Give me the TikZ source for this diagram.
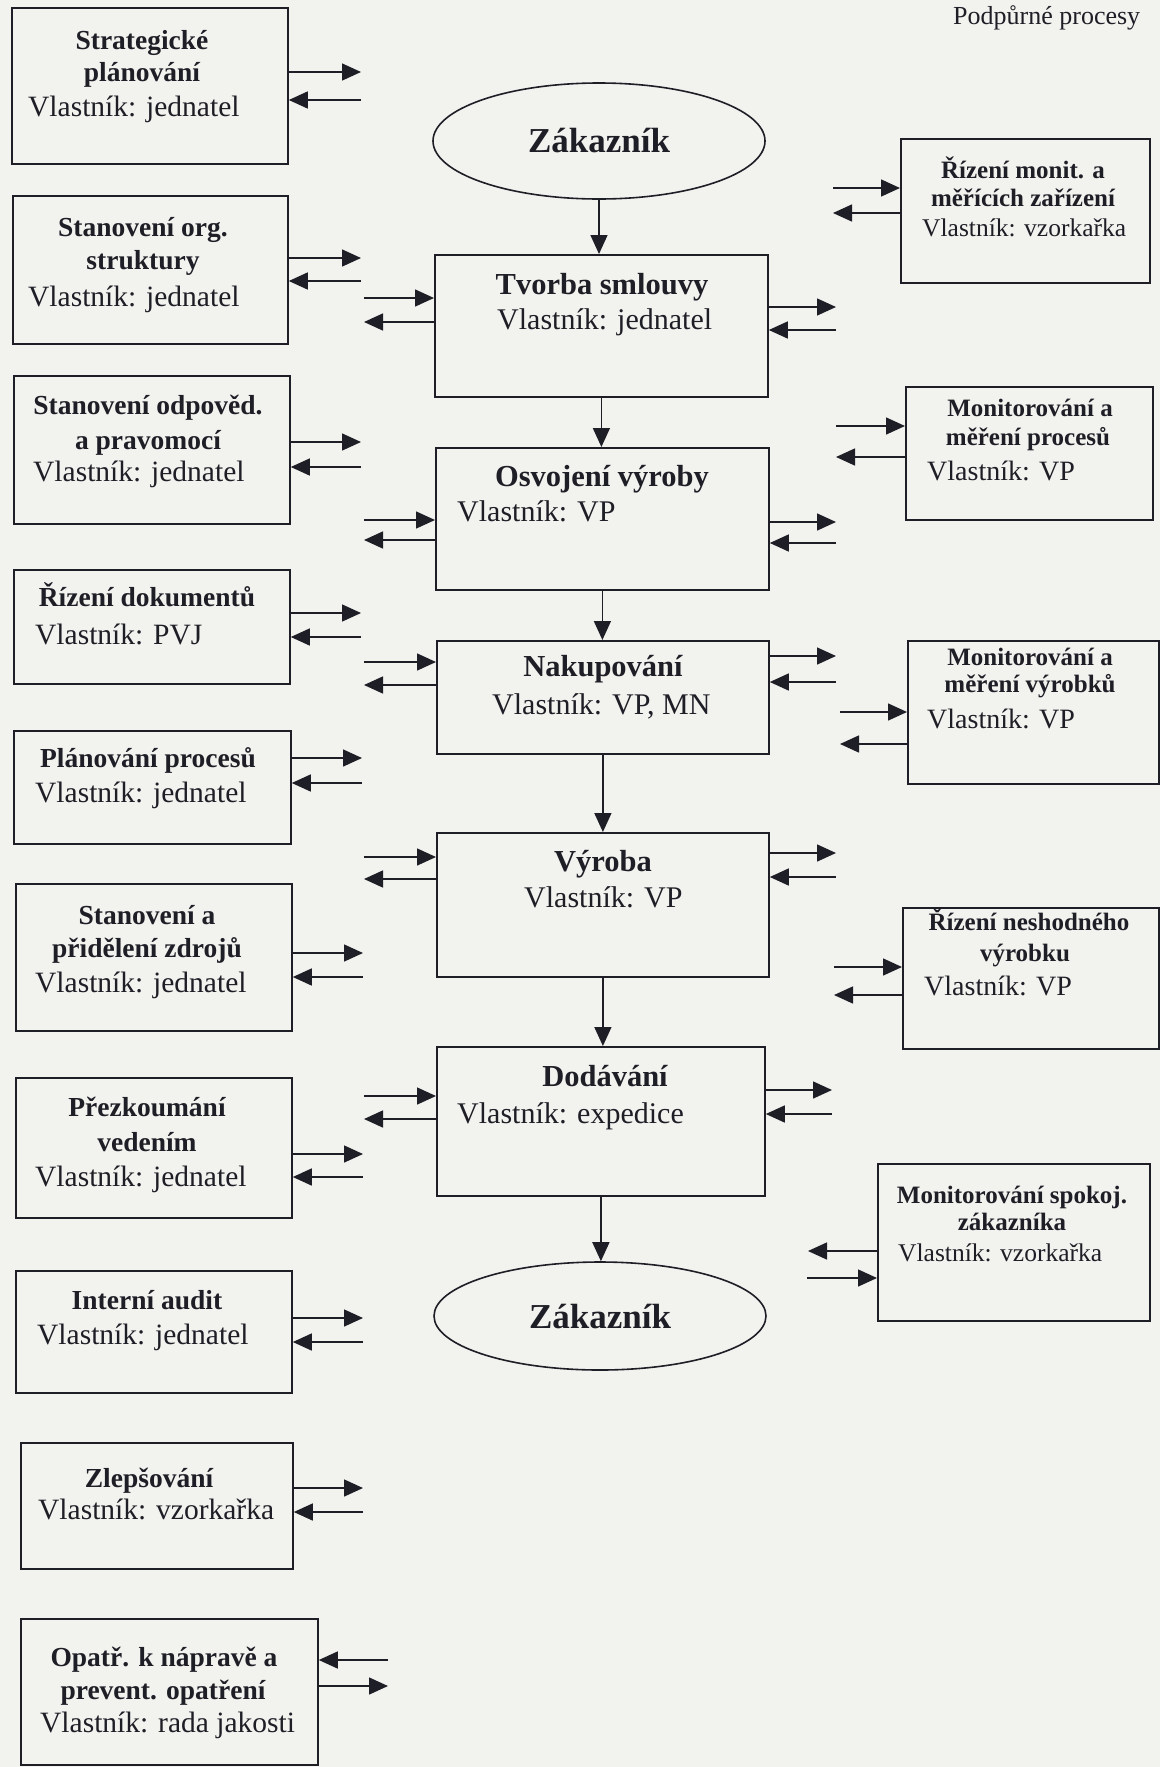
\documentclass[tikz,border=0pt]{standalone}
\usepackage{fontspec}
\setmainfont{Liberation Serif}
\usetikzlibrary{arrows.meta,shapes.geometric}
\definecolor{paper}{RGB}{242,242,239}
\definecolor{ink}{RGB}{30,30,38}
\begin{document}
\begin{tikzpicture}[x=1pt,y=-1pt,
  pbox/.style={draw=ink,line width=1.8pt,rectangle,inner sep=0pt,anchor=north west},
  zak/.style={draw=ink,line width=1.6pt,ellipse,inner sep=0pt,text=ink,font=\fontsize{35}{40}\selectfont\bfseries},
  arr/.style={draw=ink,line width=1.5pt,-{Triangle[length=19pt,width=17pt]}},
  lt/.style={anchor=base,inner sep=0pt,text=ink,font=\fontsize{27.5}{33}\selectfont\bfseries},
  lo/.style={anchor=base west,inner sep=0pt,text=ink,font=\fontsize{29.5}{34}\selectfont},
  ct/.style={anchor=base,inner sep=0pt,text=ink,font=\fontsize{30.5}{36}\selectfont\bfseries},
  co/.style={anchor=base west,inner sep=0pt,text=ink,font=\fontsize{30}{36}\selectfont},
  rt/.style={anchor=base,inner sep=0pt,text=ink,font=\fontsize{25}{30}\selectfont\bfseries},
  ro/.style={anchor=base west,inner sep=0pt,text=ink,font=\fontsize{25.5}{30}\selectfont},
  rob/.style={anchor=base west,inner sep=0pt,text=ink,font=\fontsize{28}{32}\selectfont},
  hdr/.style={anchor=base west,inner sep=0pt,text=ink,font=\fontsize{26}{30}\selectfont}]
\fill[paper] (0,0) rectangle (1160,1767);
\useasboundingbox (0,0) rectangle (1160,1767);

% header
\node[hdr] (hdr) at (953,24) {Podpůrné procesy};

% ---------- left column ----------
\node[pbox,minimum width=276pt,minimum height=156pt] (L1) at (11,7) {};
\node[lt] (L1a) at (142,49) {Strategické};
\node[lt] (L1b) at (142,81) {plánování};
\node[lo] (L1c) at (28,116) {Vlastník: jednatel};

\node[pbox,minimum width=275pt,minimum height=148pt] (L2) at (12,195) {};
\node[lt] (L2a) at (143,236) {Stanovení org.};
\node[lt] (L2b) at (143,269) {struktury};
\node[lo] (L2c) at (28,306) {Vlastník: jednatel};

\node[pbox,minimum width=276pt,minimum height=148pt] (L3) at (13,375) {};
\node[lt] (L3a) at (148,414) {Stanovení odpověd.};
\node[lt] (L3b) at (148,449) {a pravomocí};
\node[lo] (L3c) at (33,481) {Vlastník: jednatel};

\node[pbox,minimum width=276pt,minimum height=114pt] (L4) at (13,569) {};
\node[lt] (L4a) at (147,606) {Řízení dokumentů};
\node[lo] (L4c) at (35,644) {Vlastník: PVJ};

\node[pbox,minimum width=277pt,minimum height=113pt] (L5) at (13,730) {};
\node[lt] (L5a) at (148,767) {Plánování procesů};
\node[lo] (L5c) at (35,802) {Vlastník: jednatel};

\node[pbox,minimum width=276pt,minimum height=147pt] (L6) at (15,883) {};
\node[lt] (L6a) at (147,924) {Stanovení a};
\node[lt] (L6b) at (147,957) {přidělení zdrojů};
\node[lo] (L6c) at (35,992) {Vlastník: jednatel};

\node[pbox,minimum width=276pt,minimum height=140pt] (L7) at (15,1077) {};
\node[lt] (L7a) at (147,1116) {Přezkoumání};
\node[lt] (L7b) at (147,1151) {vedením};
\node[lo] (L7c) at (35,1186) {Vlastník: jednatel};

\node[pbox,minimum width=276pt,minimum height=122pt] (L8) at (15,1270) {};
\node[lt] (L8a) at (147,1309) {Interní audit};
\node[lo] (L8c) at (37,1344) {Vlastník: jednatel};

\node[pbox,minimum width=272pt,minimum height=126pt] (L9) at (20,1442) {};
\node[lt] (L9a) at (149,1487) {Zlepšování};
\node[lo] (L9c) at (38,1519) {Vlastník: vzorkařka};

\node[pbox,minimum width=297pt,minimum height=146pt] (L10) at (20,1618) {};
\node[lt] (L10a) at (164,1666) {Opatř. k nápravě a};
\node[lt] (L10b) at (163,1699) {prevent. opatření};
\node[lo] (L10c) at (40,1732) {Vlastník: rada jakosti};

% ---------- centre column ----------
\node[zak,minimum width=332pt,minimum height=116pt] (Z1) at (599,141) {Zákazník};

\node[pbox,minimum width=333pt,minimum height=142pt] (C1) at (434,254) {};
\node[ct] (C1a) at (602,294) {Tvorba smlouvy};
\node[co] (C1c) at (497,329) {Vlastník: jednatel};

\node[pbox,minimum width=333pt,minimum height=142pt] (C2) at (435,447) {};
\node[ct] (C2a) at (602,486) {Osvojení výroby};
\node[co] (C2c) at (457,521) {Vlastník: VP};

\node[pbox,minimum width=332pt,minimum height=113pt] (C3) at (436,640) {};
\node[ct] (C3a) at (603,676) {Nakupování};
\node[co] (C3c) at (492,714) {Vlastník: VP, MN};

\node[pbox,minimum width=332pt,minimum height=144pt] (C4) at (436,832) {};
\node[ct] (C4a) at (603,871) {Výroba};
\node[co] (C4c) at (524,907) {Vlastník: VP};

\node[pbox,minimum width=328pt,minimum height=149pt] (C5) at (436,1046) {};
\node[ct] (C5a) at (605,1086) {Dodávání};
\node[co] (C5c) at (457,1123) {Vlastník: expedice};

\node[zak,minimum width=332pt,minimum height=108pt] (Z2) at (600,1316) {Zákazník};

% ---------- right column ----------
\node[pbox,minimum width=249pt,minimum height=144pt] (R1) at (900,138) {};
\node[rt] (R1a) at (1023,178) {Řízení monit. a};
\node[rt] (R1b) at (1023,206) {měřících zařízení};
\node[ro] (R1c) at (922,236) {Vlastník: vzorkařka};

\node[pbox,minimum width=247pt,minimum height=133pt] (R2) at (905,386) {};
\node[rt] (R2a) at (1030,416) {Monitorování a};
\node[rt] (R2b) at (1028,445) {měření procesů};
\node[rob] (R2c) at (927,480) {Vlastník: VP};

\node[pbox,minimum width=251pt,minimum height=143pt] (R3) at (907,640) {};
\node[rt] (R3a) at (1030,665) {Monitorování a};
\node[rt] (R3b) at (1030,692) {měření výrobků};
\node[rob] (R3c) at (927,728) {Vlastník: VP};

\node[pbox,minimum width=256pt,minimum height=141pt] (R4) at (902,907) {};
\node[rt] (R4a) at (1029,930) {Řízení neshodného};
\node[rt] (R4b) at (1025,961) {výrobku};
\node[rob] (R4c) at (924,995) {Vlastník: VP};

\node[pbox,minimum width=272pt,minimum height=157pt] (R5) at (877,1163) {};
\node[rt] (R5a) at (1012,1203) {Monitorování spokoj.};
\node[rt] (R5b) at (1012,1230) {zákazníka};
\node[ro] (R5c) at (898,1261) {Vlastník: vzorkařka};

% ---------- vertical flow ----------
\draw[arr] (Z1.south) -- (Z1.south |- C1.north);
\draw[arr] (C1.south) -- (C1.south |- C2.north);
\draw[arr] (C2.south) -- (C2.south |- C3.north);
\draw[arr] (C3.south) -- (C3.south |- C4.north);
\draw[arr] (C4.south) -- (C4.south |- C5.north);
\draw[arr] (C5.south) -- (C5.south |- Z2.north);

% ---------- left boxes: arrow pairs ----------
\coordinate (l1o) at (361,72);   \coordinate (l1i) at (361,100);
\coordinate (l2o) at (361,258);  \coordinate (l2i) at (361,281);
\coordinate (l3o) at (361,442);  \coordinate (l3i) at (361,467);
\coordinate (l4o) at (361,613);  \coordinate (l4i) at (361,637);
\coordinate (l5o) at (362,758);  \coordinate (l5i) at (362,783);
\coordinate (l6o) at (363,953);  \coordinate (l6i) at (363,977);
\coordinate (l7o) at (363,1154); \coordinate (l7i) at (363,1177);
\coordinate (l8o) at (363,1318); \coordinate (l8i) at (363,1342);
\coordinate (l9o) at (363,1488); \coordinate (l9i) at (363,1512);
\coordinate (l10i) at (388,1660); \coordinate (l10o) at (388,1686);
\foreach \n in {1,...,10}{
  \draw[arr] (L\n.east |- l\n o) -- (l\n o);
  \draw[arr] (l\n i) -- (L\n.east |- l\n i);
}

% ---------- centre boxes: left pairs ----------
\coordinate (c1lo) at (364,298);  \coordinate (c1li) at (364,322);
\coordinate (c2lo) at (364,520);  \coordinate (c2li) at (364,540);
\coordinate (c3lo) at (364,662);  \coordinate (c3li) at (364,685);
\coordinate (c4lo) at (364,857);  \coordinate (c4li) at (364,879);
\coordinate (c5lo) at (364,1096); \coordinate (c5li) at (364,1119);
% ---------- centre boxes: right pairs ----------
\coordinate (c1ro) at (836,307);  \coordinate (c1ri) at (836,330);
\coordinate (c2ro) at (836,522);  \coordinate (c2ri) at (836,543);
\coordinate (c3ro) at (836,656);  \coordinate (c3ri) at (836,682);
\coordinate (c4ro) at (836,853);  \coordinate (c4ri) at (836,877);
\coordinate (c5ro) at (832,1090); \coordinate (c5ri) at (832,1114);
\foreach \n in {1,...,5}{
  \draw[arr] (c\n lo) -- (C\n.west |- c\n lo);
  \draw[arr] (C\n.west |- c\n li) -- (c\n li);
  \draw[arr] (C\n.east |- c\n ro) -- (c\n ro);
  \draw[arr] (c\n ri) -- (C\n.east |- c\n ri);
}

% ---------- right boxes: arrow pairs ----------
\coordinate (r1o) at (833,188); \coordinate (r1i) at (833,213);
\coordinate (r2o) at (836,426); \coordinate (r2i) at (836,457);
\coordinate (r3o) at (840,712); \coordinate (r3i) at (840,744);
\coordinate (r4o) at (834,967); \coordinate (r4i) at (834,995);
\foreach \n in {1,...,4}{
  \draw[arr] (r\n o) -- (R\n.west |- r\n o);
  \draw[arr] (R\n.west |- r\n i) -- (r\n i);
}
\coordinate (r5i) at (808,1251); \coordinate (r5o) at (807,1278);
\draw[arr] (R5.west |- r5i) -- (r5i);
\draw[arr] (r5o) -- (R5.west |- r5o);
\end{tikzpicture}
\end{document}
